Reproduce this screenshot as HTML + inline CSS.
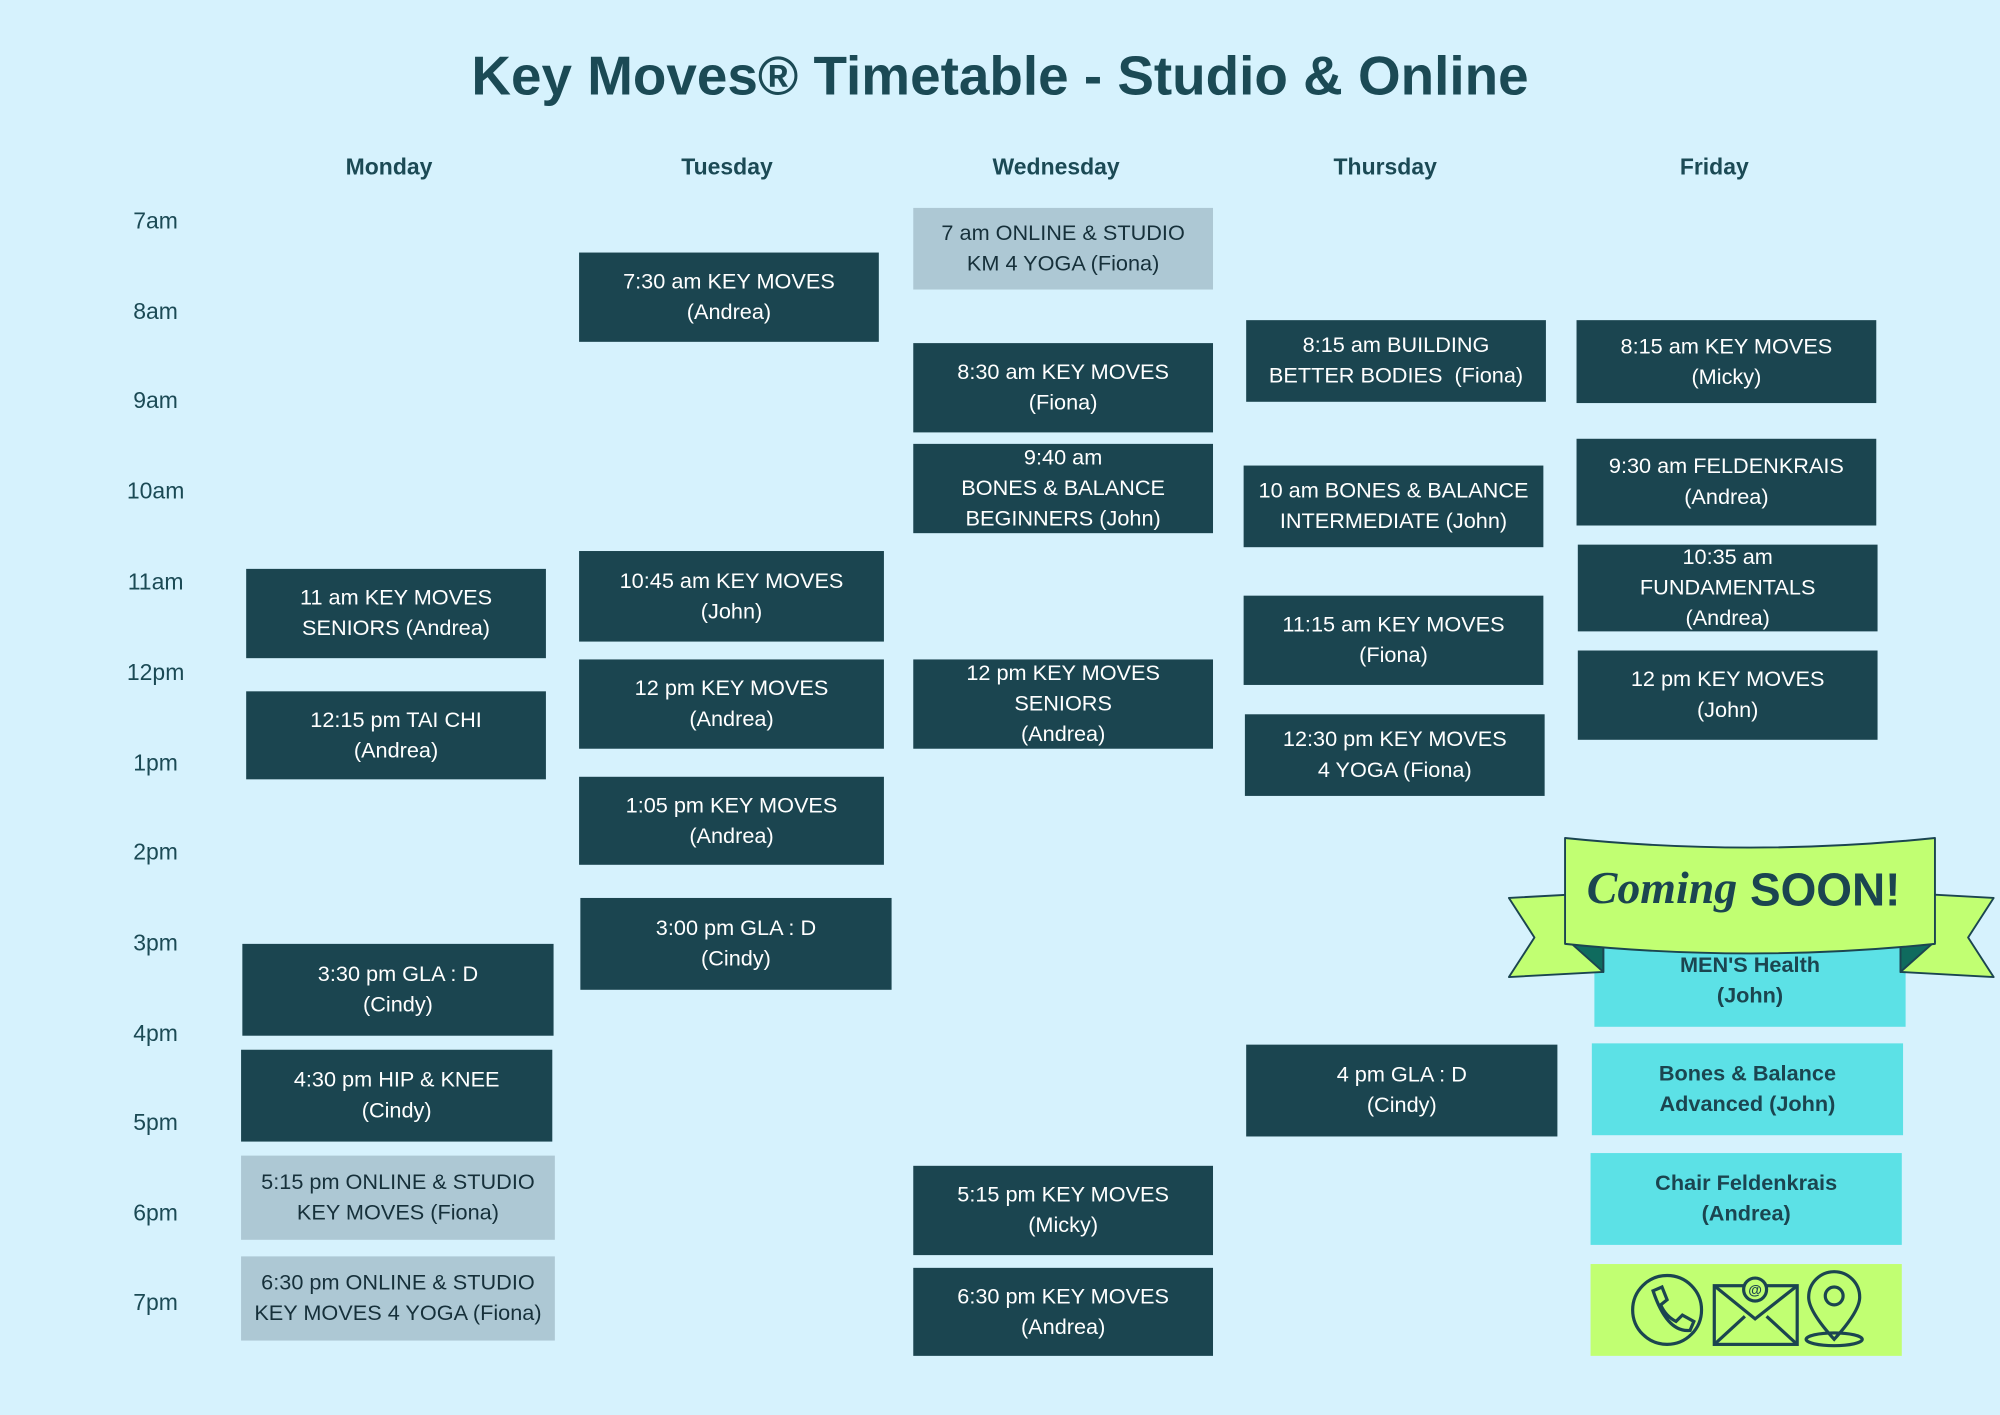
<!DOCTYPE html>
<html><head><meta charset="utf-8"><style>
html,body{margin:0;padding:0;}
body{width:2000px;height:1414px;overflow:hidden;background:#d6f2fd;}
#c{position:absolute;left:0;top:0;width:1568px;height:1109px;transform:scale(1.27551);transform-origin:0 0;font-family:"Liberation Sans",sans-serif;}
.t{position:absolute;left:0;width:1568px;top:36px;text-align:center;font-size:43px;font-weight:bold;color:#1b4a55;}
.d{position:absolute;top:121px;width:200px;margin-left:-100px;text-align:center;font-weight:bold;font-size:18px;color:#1b4a55;}
.h{position:absolute;left:80px;width:84px;text-align:center;font-size:18px;color:#1b4a55;}
.b{position:absolute;background:#1b4550;color:#fff;font-size:17px;line-height:24px;display:flex;align-items:center;justify-content:center;text-align:center;}
.l{background:#adc8d4;color:#16303a;}
.cy{background:#5ce1e6;color:#1b4550;font-weight:bold;}
</style></head><body><div id="c">
<div class="t">Key Moves® Timetable - Studio &amp; Online</div>
<div class="d" style="left:305px">Monday</div>
<div class="d" style="left:570px">Tuesday</div>
<div class="d" style="left:828px">Wednesday</div>
<div class="d" style="left:1086px">Thursday</div>
<div class="d" style="left:1344px">Friday</div>
<div class="h" style="top:163px">7am</div>
<div class="h" style="top:234px">8am</div>
<div class="h" style="top:304px">9am</div>
<div class="h" style="top:375px">10am</div>
<div class="h" style="top:446px">11am</div>
<div class="h" style="top:517px">12pm</div>
<div class="h" style="top:588px">1pm</div>
<div class="h" style="top:658px">2pm</div>
<div class="h" style="top:729px">3pm</div>
<div class="h" style="top:800px">4pm</div>
<div class="h" style="top:870px">5pm</div>
<div class="h" style="top:941px">6pm</div>
<div class="h" style="top:1011px">7pm</div>

<div class="b" style="left:193px;top:446px;width:235px;height:70px">11 am KEY MOVES<br>SENIORS (Andrea)</div>
<div class="b" style="left:193px;top:542px;width:235px;height:69px">12:15 pm TAI CHI<br>(Andrea)</div>
<div class="b" style="left:190px;top:740px;width:244px;height:72px">3:30 pm GLA : D<br>(Cindy)</div>
<div class="b" style="left:189px;top:823px;width:244px;height:72px">4:30 pm HIP &amp; KNEE<br>(Cindy)</div>
<div class="b l" style="left:189px;top:906px;width:246px;height:66px">5:15 pm ONLINE &amp; STUDIO<br>KEY MOVES (Fiona)</div>
<div class="b l" style="left:189px;top:985px;width:246px;height:66px">6:30 pm ONLINE &amp; STUDIO<br>KEY MOVES 4 YOGA (Fiona)</div>

<div class="b" style="left:454px;top:198px;width:235px;height:70px">7:30 am KEY MOVES<br>(Andrea)</div>
<div class="b" style="left:454px;top:432px;width:239px;height:71px">10:45 am KEY MOVES<br>(John)</div>
<div class="b" style="left:454px;top:517px;width:239px;height:70px">12 pm KEY MOVES<br>(Andrea)</div>
<div class="b" style="left:454px;top:609px;width:239px;height:69px">1:05 pm KEY MOVES<br>(Andrea)</div>
<div class="b" style="left:455px;top:704px;width:244px;height:72px">3:00 pm GLA : D<br>(Cindy)</div>

<div class="b l" style="left:716px;top:163px;width:235px;height:64px">7 am ONLINE &amp; STUDIO<br>KM 4 YOGA (Fiona)</div>
<div class="b" style="left:716px;top:269px;width:235px;height:70px">8:30 am KEY MOVES<br>(Fiona)</div>
<div class="b" style="left:716px;top:348px;width:235px;height:70px">9:40 am<br>BONES &amp; BALANCE<br>BEGINNERS (John)</div>
<div class="b" style="left:716px;top:517px;width:235px;height:70px">12 pm KEY MOVES<br>SENIORS<br>(Andrea)</div>
<div class="b" style="left:716px;top:914px;width:235px;height:70px">5:15 pm KEY MOVES<br>(Micky)</div>
<div class="b" style="left:716px;top:994px;width:235px;height:69px">6:30 pm KEY MOVES<br>(Andrea)</div>

<div class="b" style="left:977px;top:251px;width:235px;height:64px">8:15 am BUILDING<br>BETTER BODIES&nbsp; (Fiona)</div>
<div class="b" style="left:975px;top:365px;width:235px;height:64px">10 am BONES &amp; BALANCE<br>INTERMEDIATE (John)</div>
<div class="b" style="left:975px;top:467px;width:235px;height:70px">11:15 am KEY MOVES<br>(Fiona)</div>
<div class="b" style="left:976px;top:560px;width:235px;height:64px">12:30 pm KEY MOVES<br>4 YOGA (Fiona)</div>
<div class="b" style="left:977px;top:819px;width:244px;height:72px">4 pm GLA : D<br>(Cindy)</div>

<div class="b" style="left:1236px;top:251px;width:235px;height:65px">8:15 am KEY MOVES<br>(Micky)</div>
<div class="b" style="left:1236px;top:344px;width:235px;height:68px">9:30 am FELDENKRAIS<br>(Andrea)</div>
<div class="b" style="left:1237px;top:427px;width:235px;height:68px">10:35 am<br>FUNDAMENTALS<br>(Andrea)</div>
<div class="b" style="left:1237px;top:510px;width:235px;height:70px">12 pm KEY MOVES<br>(John)</div>

<div class="b cy" style="left:1250px;top:733px;width:244px;height:72px">MEN'S Health<br>(John)</div>
<div class="b cy" style="left:1248px;top:818px;width:244px;height:72px">Bones &amp; Balance<br>Advanced (John)</div>
<div class="b cy" style="left:1247px;top:904px;width:244px;height:72px">Chair Feldenkrais<br>(Andrea)</div>
<div class="b" style="left:1247px;top:991px;width:244px;height:72px;background:#c1ff72"></div>

<svg style="position:absolute;left:0;top:0" width="1568" height="1109">
<g stroke="#1b4550" stroke-width="1.5" stroke-linejoin="round">
<polygon points="1183,704 1257,700 1257,762 1183,766 1203,735" fill="#c1ff72"/>
<polygon points="1490,700 1563,704 1543,735 1563,766 1490,762" fill="#c1ff72"/>
<polygon points="1230,738 1257,762 1257,738" fill="#0f6b5e"/>
<polygon points="1517,738 1490,762 1490,738" fill="#0f6b5e"/>
<path d="M1227,657 Q1372,672 1517,657 L1517,740 Q1372,755 1227,740 Z" fill="#c1ff72"/>
</g>
<text x="1244" y="708" font-family="Liberation Serif,serif" font-style="italic" font-weight="bold" font-size="36" fill="#1b4550">Coming</text>
<text x="1372" y="710" font-family="Liberation Sans,sans-serif" font-weight="bold" font-size="36" fill="#1b4550">SOON!</text>
<g fill="none" stroke="#1b4550" stroke-width="2.5">
<circle cx="1307" cy="1027" r="27"/>
<path d="M1296,1012 l7,-3 4,10 -5,4 q4,9 12,13 l5,-5 9,5 -3,7 q-18,2 -29,-31z"/>
<rect x="1344" y="1008" width="65" height="46"/>
<path d="M1344,1008 l32,26 33,-26 M1344,1054 l24,-22 M1409,1054 l-24,-22"/>
<circle cx="1376" cy="1011" r="9" fill="#c1ff72"/>
<path d="M1438,1050 q-20,-22 -20,-33 a20,20 0 0 1 40,0 q0,11 -20,33z"/>
<circle cx="1438" cy="1016" r="7"/>
<ellipse cx="1438" cy="1050" rx="22" ry="5"/>
</g>
<text x="1376" y="1015" text-anchor="middle" font-size="11" font-weight="bold" fill="#1b4550" font-family="Liberation Sans,sans-serif">@</text>
</svg>
</div></body></html>
